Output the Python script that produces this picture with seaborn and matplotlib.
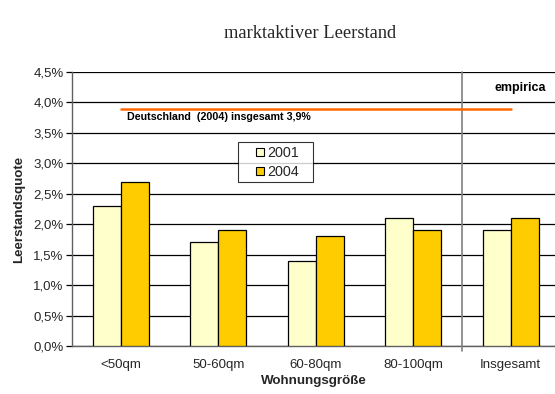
import matplotlib
matplotlib.use("Agg")
import matplotlib.pyplot as plt
import matplotlib.ticker as mticker
from matplotlib.lines import Line2D
import pandas as pd
import seaborn as sns

categories = ["<50qm", "50-60qm", "60-80qm", "80-100qm", "Insgesamt"]
values_2001 = [2.3, 1.7, 1.4, 2.1, 1.9]
values_2004 = [2.7, 1.9, 1.8, 1.9, 2.1]
years = ["2001", "2004"]
germany_2004 = 3.9
y_ticks = [0.0, 0.5, 1.0, 1.5, 2.0, 2.5, 3.0, 3.5, 4.0, 4.5]

df = pd.DataFrame({
    "Wohnungsgröße": categories * 2,
    "Leerstandsquote": values_2001 + values_2004,
    "Jahr": [years[0]] * len(categories) + [years[1]] * len(categories),
})

sns.set_theme(style="white")
plt.rcParams["font.family"] = ["Liberation Sans", "DejaVu Sans"]

fig = plt.figure(figsize=(5.55, 3.94), dpi=100)
ax = fig.add_axes([72 / 555, 1 - 346 / 394, 483 / 555, (346 - 72) / 394])

colors = {"2001": "#FFFFCC", "2004": "#FFCC00"}
sns.barplot(data=df, x="Wohnungsgröße", y="Leerstandsquote", hue="Jahr",
            palette=colors, width=0.574, gap=0, saturation=1,
            edgecolor="black", linewidth=0.9, ax=ax, zorder=3, legend=False)

ax.set_xlim(-0.5, 4.454)
ax.set_ylim(0, 4.5)
ax.set_yticks(y_ticks)
ax.yaxis.set_major_formatter(mticker.FuncFormatter(lambda v, _: f"{v:.1f}%".replace(".", ",")))
ax.grid(axis="y", color="black", linewidth=0.9, zorder=0)
ax.set_axisbelow(True)

for side in ["top", "right"]:
    ax.spines[side].set_visible(False)
for side in ["left", "bottom"]:
    ax.spines[side].set_color("#606060")
    ax.spines[side].set_linewidth(1.0)

ax.tick_params(axis="y", which="major", left=True, length=4, width=0.9,
               color="black", labelsize=9.5, pad=2)
ax.tick_params(axis="x", which="major", bottom=False, labelsize=9.5, pad=3.5)

# separator between size classes and the total
ax.axvline(3.5, ymin=-0.02, ymax=1, color="#808080", linewidth=1.2, clip_on=False, zorder=4)

# nationwide reference line
ax.plot([0, 4], [germany_2004, germany_2004], color="#FF6600", linewidth=1.8, zorder=5)
ax.text(0.06, 3.76, "Deutschland  (2004) insgesamt 3,9%",
        fontsize=7.7, fontweight="bold", ha="left", va="center", color="black")
ax.text(4.095, 4.24, "empirica", fontsize=9, fontweight="bold",
        ha="center", va="center", color="black")

ax.set_xlabel("Wohnungsgröße", fontsize=9.6, fontweight="bold", labelpad=3)
ax.set_ylabel("Leerstandsquote", fontsize=9.6, fontweight="bold", labelpad=6)

handles = [Line2D([], [], marker="s", linestyle="none", markersize=6,
                  markerfacecolor=colors[y], markeredgecolor="black",
                  markeredgewidth=0.8) for y in years]
leg = ax.legend(handles, years, loc="upper left",
                bbox_to_anchor=(238 / 555, 1 - 182 / 394, 75 / 555, 40 / 394),
                bbox_transform=fig.transFigure, mode="expand", numpoints=1,
                frameon=True, fancybox=False, fontsize=10.4,
                handlelength=2.55, handletextpad=-0.79,
                borderpad=0.25, labelspacing=0.35, borderaxespad=0)
leg.get_frame().set_edgecolor("black")
leg.get_frame().set_linewidth(0.8)
leg.set_zorder(6)

fig.text(310 / 555, 1 - 34 / 394, "marktaktiver Leerstand", ha="center", va="center",
         fontsize=13.3, family=["Liberation Serif", "DejaVu Serif"])

fig.savefig("out.png", dpi=100)
